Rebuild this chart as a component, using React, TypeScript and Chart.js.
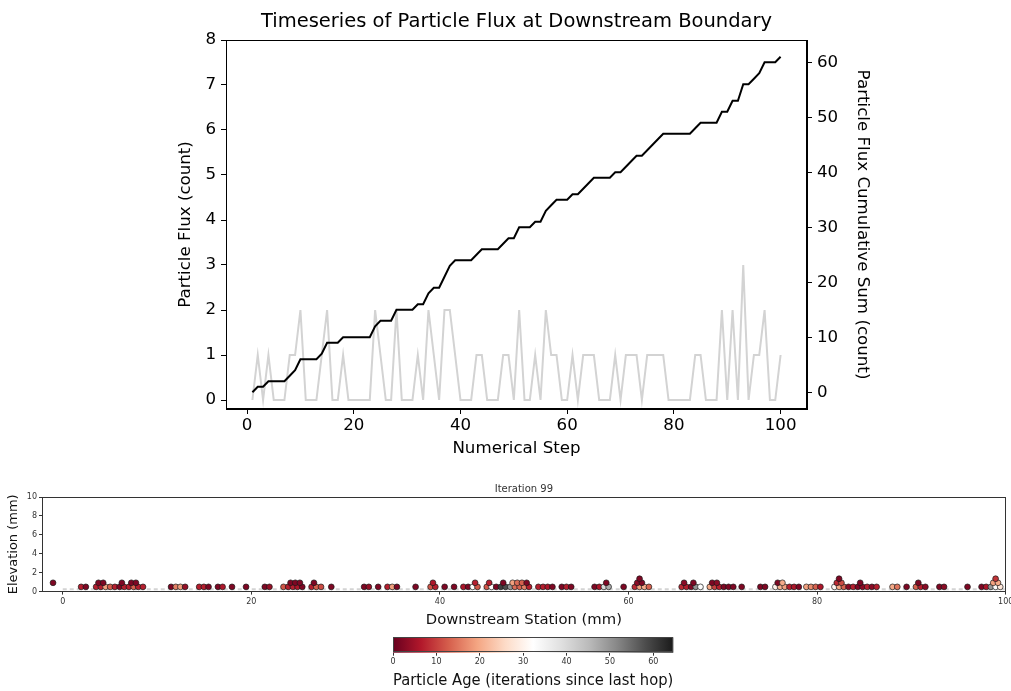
import React, { useEffect, useRef } from "react";
import { Chart, registerables } from "chart.js";

Chart.register(...registerables);

const FONT = "'DejaVu Sans', 'Liberation Sans', sans-serif";

// ---------- top chart data ----------
const stepLabels = Array.from({ length: 100 }, (_, i) => i + 1);
const particleFlux = [
  0, 1, 0, 1, 0, 0, 0, 1, 1, 2,
  0, 0, 0, 1, 2, 0, 0, 1, 0, 0,
  0, 0, 0, 2, 1, 0, 0, 2, 0, 0,
  0, 1, 0, 2, 1, 0, 2, 2, 1, 0,
  0, 0, 1, 1, 0, 0, 0, 1, 1, 0,
  2, 0, 0, 1, 0, 2, 1, 1, 0, 0,
  1, 0, 1, 1, 1, 0, 0, 0, 1, 0,
  1, 1, 1, 0, 1, 1, 1, 1, 0, 0,
  0, 0, 0, 1, 1, 0, 0, 0, 2, 0,
  2, 0, 3, 0, 1, 1, 2, 0, 0, 1,
];
const cumulativeFlux = [
  0, 1, 1, 2, 2, 2, 2, 3, 4, 6,
  6, 6, 6, 7, 9, 9, 9, 10, 10, 10,
  10, 10, 10, 12, 13, 13, 13, 15, 15, 15,
  15, 16, 16, 18, 19, 19, 21, 23, 24, 24,
  24, 24, 25, 26, 26, 26, 26, 27, 28, 28,
  30, 30, 30, 31, 31, 33, 34, 35, 35, 35,
  36, 36, 37, 38, 39, 39, 39, 39, 40, 40,
  41, 42, 43, 43, 44, 45, 46, 47, 47, 47,
  47, 47, 47, 48, 49, 49, 49, 49, 51, 51,
  53, 53, 56, 56, 57, 58, 60, 60, 60, 61,
];
const stepTicks = [0, 20, 40, 60, 80, 100];
const fluxTicks = [0, 1, 2, 3, 4, 5, 6, 7, 8];
const cumulativeTicks = [0, 10, 20, 30, 40, 50, 60];

// ---------- bottom chart data ----------
const particleX = [
  -1.03,
  1.95, 2.45,
  3.54, 4.04, 4.54, 5.03, 5.53, 6.03, 6.52, 7.02, 7.52, 8.01, 8.51, 3.79, 4.29, 6.27, 7.27, 7.76,
  11.49, 11.99, 12.48, 12.98,
  14.47, 14.97, 15.46,
  16.46, 16.95,
  17.95,
  19.44,
  21.43, 21.92,
  23.41, 23.91, 24.41, 24.9, 25.4, 24.16, 24.66, 25.15,
  26.39, 26.89, 27.39, 26.64,
  28.48,
  31.96, 32.46,
  33.45,
  34.44, 34.94, 35.44,
  37.42,
  39.01, 39.51, 39.26,
  40.5,
  41.5,
  42.49, 42.99, 43.48, 43.98, 43.73,
  44.97, 45.47, 45.97, 46.46, 46.96, 47.46, 47.95, 48.45, 48.95, 49.45, 45.22, 46.71, 47.71, 48.2, 48.7, 49.2,
  50.44, 50.94, 51.43, 51.93,
  52.92, 53.42, 53.92,
  56.4, 56.9, 57.39, 57.89, 57.64,
  59.48,
  60.67, 61.17, 61.67, 62.16, 60.92, 61.42, 61.17,
  65.64, 66.14, 66.64, 67.13, 67.63, 65.89, 66.88,
  68.62, 69.12, 69.62, 70.11, 70.61, 71.11, 68.87, 69.37,
  72.0,
  73.99, 74.48,
  75.58, 76.07, 76.57, 77.07, 77.56, 78.06, 75.82, 76.32,
  78.86, 79.35, 79.85, 80.35,
  81.84, 82.33, 82.83, 83.33, 83.82, 84.32, 84.82, 85.31, 85.81, 86.31, 82.09, 82.58, 84.57, 82.33,
  88.0, 88.5,
  89.49,
  90.48, 90.98, 91.48, 90.73,
  92.97, 93.46,
  95.95,
  97.44, 97.93, 98.43, 98.93, 99.42, 98.68, 99.18, 98.93,
];
const particleElevation = [
  0.93,
  0.5, 0.5,
  0.5, 0.5, 0.5, 0.5, 0.5, 0.5, 0.5, 0.5, 0.5, 0.5, 0.5, 0.93, 0.93, 0.93, 0.93, 0.93,
  0.5, 0.5, 0.5, 0.5,
  0.5, 0.5, 0.5,
  0.5, 0.5,
  0.5,
  0.5,
  0.5, 0.5,
  0.5, 0.5, 0.5, 0.5, 0.5, 0.93, 0.93, 0.93,
  0.5, 0.5, 0.5, 0.93,
  0.5,
  0.5, 0.5,
  0.5,
  0.5, 0.5, 0.5,
  0.5,
  0.5, 0.5, 0.93,
  0.5,
  0.5,
  0.5, 0.5, 0.5, 0.5, 0.93,
  0.5, 0.5, 0.5, 0.5, 0.5, 0.5, 0.5, 0.5, 0.5, 0.5, 0.93, 0.93, 0.93, 0.93, 0.93, 0.93,
  0.5, 0.5, 0.5, 0.5,
  0.5, 0.5, 0.5,
  0.5, 0.5, 0.5, 0.5, 0.93,
  0.5,
  0.5, 0.5, 0.5, 0.5, 0.93, 0.93, 1.36,
  0.5, 0.5, 0.5, 0.5, 0.5, 0.93, 0.93,
  0.5, 0.5, 0.5, 0.5, 0.5, 0.5, 0.93, 0.93,
  0.5,
  0.5, 0.5,
  0.5, 0.5, 0.5, 0.5, 0.5, 0.5, 0.93, 0.93,
  0.5, 0.5, 0.5, 0.5,
  0.5, 0.5, 0.5, 0.5, 0.5, 0.5, 0.5, 0.5, 0.5, 0.5, 0.93, 0.93, 0.93, 1.36,
  0.5, 0.5,
  0.5,
  0.5, 0.5, 0.5, 0.93,
  0.5, 0.5,
  0.5,
  0.5, 0.5, 0.5, 0.5, 0.5, 0.93, 0.93, 1.36,
];
const particleAge = [
  2,
  7, 2,
  7, 7, 19, 13, 7, 2, 7, 7, 13, 7, 7, 2, 2, 2, 2, 2,
  2, 16, 19, 4,
  7, 7, 2,
  2, 6,
  2,
  2,
  2, 4,
  12, 7, 7, 6, 2, 2, 2, 2,
  7, 13, 11, 2,
  2,
  2, 4,
  2,
  7, 19, 2,
  2,
  12, 7, 6,
  2,
  2,
  6, 2, 32, 12, 7,
  12, 32, 2, 60, 58, 50, 14, 13, 16, 7, 7, 2, 19, 14, 13, 2,
  7, 7, 6, 2,
  2, 7, 2,
  2, 6, 40, 47, 2,
  2,
  8, 19, 20, 13, 3, 2, 2,
  8, 7, 2, 50, 33, 3, 2,
  20, 10, 7, 2, 2, 2, 2, 3,
  2,
  2, 2,
  30, 21, 19, 7, 6, 2, 2, 20,
  19, 17, 13, 6,
  31, 20, 13, 3, 7, 2, 3, 7, 3, 7, 8, 11, 2, 2,
  20, 15,
  2,
  13, 7, 3, 2,
  2, 3,
  2,
  2, 6, 50, 32, 28, 19, 20, 9,
];
const bedX = [0, 100];
const bedElevation = [0.25, 0.25];
const stationTicks = [0, 20, 40, 60, 80, 100];
const elevationTicks = [0, 2, 4, 6, 8, 10];

// ---------- colorbar ----------
const ageTicks = [0, 10, 20, 30, 40, 50, 60];
const AGE_MAX = 64.6;
const rdgyStops: [number, string][] = [
  [0.0, "#67001f"], [0.1, "#b2182b"], [0.2, "#d6604d"], [0.3, "#f4a582"],
  [0.4, "#fddbc7"], [0.5, "#ffffff"], [0.6, "#e0e0e0"], [0.7, "#bababa"],
  [0.8, "#878787"], [0.9, "#4d4d4d"], [1.0, "#1a1a1a"],
];

function hexRgb(h: string) {
  return [parseInt(h.slice(1, 3), 16), parseInt(h.slice(3, 5), 16), parseInt(h.slice(5, 7), 16)];
}
function ageColor(age: number) {
  const t = Math.min(1, Math.max(0, age / AGE_MAX));
  for (let i = 1; i < rdgyStops.length; i++) {
    if (t <= rdgyStops[i][0]) {
      const [t0, c0] = rdgyStops[i - 1];
      const [t1, c1] = rdgyStops[i];
      const f = (t - t0) / (t1 - t0);
      const a = hexRgb(c0), b = hexRgb(c1);
      const m = a.map((v, k) => Math.round(v + (b[k] - v) * f));
      return `rgb(${m[0]},${m[1]},${m[2]})`;
    }
  }
  return rdgyStops[rdgyStops.length - 1][1];
}

const framePlugin = (color: string) => ({
  id: "frame",
  afterDatasetsDraw(chart: any) {
    const { ctx, chartArea: a } = chart;
    ctx.save();
    ctx.strokeStyle = color;
    ctx.lineWidth = 1;
    const l = Math.round(a.left) + 0.5, t = Math.round(a.top) + 0.5;
    const r = Math.round(a.right) - 0.5, b = Math.round(a.bottom) - 0.5;
    ctx.strokeRect(l, t, r - l, b - t);
    ctx.restore();
  },
});

const colorbarPlugin = {
  id: "colorbar",
  beforeDatasetsDraw(chart: any) {
    const { ctx, chartArea: a } = chart;
    const xs = chart.scales.x;
    const x0 = xs.getPixelForValue(0);
    const x1 = xs.getPixelForValue(AGE_MAX);
    const g = ctx.createLinearGradient(x0, 0, x1, 0);
    rdgyStops.forEach(([t, c]) => g.addColorStop(t, c));
    ctx.save();
    ctx.fillStyle = g;
    ctx.fillRect(x0, a.top, x1 - x0, a.bottom - a.top);
    ctx.strokeStyle = "#444";
    ctx.lineWidth = 1;
    ctx.strokeRect(Math.round(x0) + 0.5, Math.round(a.top) + 0.5, Math.round(x1 - x0) - 1, Math.round(a.bottom - a.top) - 1);
    ctx.restore();
  },
};

function tickSet(values: number[]) {
  return (s: any) => {
    s.ticks = values.map((v) => ({ value: v }));
  };
}

export default function App() {
  const topRef = useRef<HTMLCanvasElement>(null);
  const bottomRef = useRef<HTMLCanvasElement>(null);
  const barRef = useRef<HTMLCanvasElement>(null);

  useEffect(() => {
    const charts: Chart[] = [];
    const big = { family: FONT, size: 16.67 };

    charts.push(
      new Chart(topRef.current!, {
        type: "line",
        data: {
          datasets: [
            {
              label: "Cumulative",
              data: cumulativeFlux.map((v, i) => ({ x: stepLabels[i], y: v })),
              borderColor: "#000",
              borderWidth: 2,
              pointRadius: 0,
              yAxisID: "y2",
              order: 0,
            },
            {
              label: "Flux",
              data: particleFlux.map((v, i) => ({ x: stepLabels[i], y: v })),
              borderColor: "#d3d3d3",
              borderWidth: 2,
              pointRadius: 0,
              yAxisID: "y",
              order: 1,
            },
          ],
        },
        options: {
          animation: false,
          responsive: false,
          maintainAspectRatio: false,
          devicePixelRatio: 1,
          layout: { padding: { left: 176, right: 139, top: 0, bottom: 11 } },
          plugins: {
            legend: { display: false },
            tooltip: { enabled: false },
            title: {
              display: true,
              fullSize: false,
              text: "Timeseries of Particle Flux at Downstream Boundary",
              color: "#000",
              font: { family: FONT, size: 19.5, weight: "normal" },
              padding: { top: 10.5, bottom: 6.1 },
            },
          },
          scales: {
            x: {
              type: "linear",
              min: -3.95,
              max: 104.95,
              afterBuildTicks: tickSet(stepTicks),
              afterFit: (s: any) => { s.height = 50; },
              grid: { drawOnChartArea: false, drawTicks: true, tickLength: 5, color: "#000" },
              border: { display: true, color: "#000" },
              ticks: { color: "#000", font: big, padding: 1.5, autoSkip: false, maxRotation: 0 },
              title: { display: true, text: "Numerical Step", color: "#000", font: big, padding: 0 },
            },
            y: {
              type: "linear",
              position: "left",
              min: -0.2,
              max: 8,
              afterBuildTicks: tickSet(fluxTicks),
              afterFit: (s: any) => { s.width = 50; },
              grid: { drawOnChartArea: false, drawTicks: true, tickLength: 5, color: "#000" },
              border: { display: true, color: "#000" },
              ticks: { color: "#000", font: big, padding: 5, autoSkip: false },
              title: { display: true, text: "Particle Flux (count)", color: "#000", font: big, padding: 0 },
            },
            y2: {
              type: "linear",
              position: "right",
              min: -3.05,
              max: 64.05,
              afterBuildTicks: tickSet(cumulativeTicks),
              afterFit: (s: any) => { s.width = 65; },
              grid: { drawOnChartArea: false, drawTicks: true, tickLength: 5, color: "#000" },
              border: { display: true, color: "#000" },
              ticks: { color: "#000", font: big, padding: 5, autoSkip: false },
              title: { display: true, text: "Particle Flux Cumulative Sum (count)", color: "#000", font: big, padding: 0 },
            },
          },
        },
        plugins: [framePlugin("#000")],
      } as any)
    );

    const points = particleX
      .map((x, i) => ({ x, y: particleElevation[i], age: particleAge[i] }))
      .sort((a, b) => a.y - b.y);

    const small = { family: FONT, size: 8 };
    charts.push(
      new Chart(bottomRef.current!, {
        type: "scatter",
        data: {
          datasets: [
            {
              type: "line",
              data: bedX.map((x, i) => ({ x, y: bedElevation[i] })),
              borderColor: "#d4d4d4",
              borderWidth: 2,
              borderDash: [4, 3],
              pointRadius: 0,
              order: 2,
            },
            {
              data: points.map((p) => ({ x: p.x, y: p.y })),
              backgroundColor: points.map((p) => ageColor(p.age)),
              borderColor: "#1a1a1a",
              borderWidth: 0.7,
              pointRadius: 2.9,
              order: 1,
            },
          ],
        },
        options: {
          animation: false,
          responsive: false,
          maintainAspectRatio: false,
          devicePixelRatio: 1,
          layout: { padding: { left: 6, right: 5.3, top: 0, bottom: 1 } },
          plugins: {
            legend: { display: false },
            tooltip: { enabled: false },
            title: {
              display: true,
              fullSize: false,
              text: "Iteration 99",
              color: "#333",
              font: { family: FONT, size: 10, weight: "normal" },
              padding: { top: 13.6, bottom: 1.4 },
            },
          },
          scales: {
            x: {
              type: "linear",
              min: -2.2,
              max: 100,
              afterBuildTicks: tickSet(stationTicks),
              afterFit: (s: any) => { s.height = 37.4; s.paddingRight = 0; s.paddingLeft = 0; },
              grid: { drawOnChartArea: false, drawTicks: true, tickLength: 3, color: "#333" },
              border: { display: true, color: "#333" },
              ticks: { color: "#333", font: small, padding: 3, autoSkip: false, maxRotation: 0 },
              title: { display: true, text: "Downstream Station (mm)", color: "#111", font: { family: FONT, size: 14.8 }, padding: 0 },
            },
            y: {
              type: "linear",
              min: 0,
              max: 10,
              afterBuildTicks: tickSet(elevationTicks),
              afterFit: (s: any) => { s.width = 36; },
              grid: { drawOnChartArea: false, drawTicks: true, tickLength: 3, color: "#333" },
              border: { display: true, color: "#333" },
              ticks: { color: "#333", font: small, padding: 2, autoSkip: false },
              title: { display: true, text: "Elevation (mm)", color: "#111", font: { family: FONT, size: 13 }, padding: 0 },
            },
          },
        },
        plugins: [framePlugin("#333")],
      } as any)
    );

    charts.push(
      new Chart(barRef.current!, {
        type: "scatter",
        data: { datasets: [] },
        options: {
          animation: false,
          responsive: false,
          maintainAspectRatio: false,
          devicePixelRatio: 1,
          layout: { padding: { left: 393, right: 337.7, top: 7.3, bottom: 1 } },
          plugins: { legend: { display: false }, tooltip: { enabled: false } },
          scales: {
            x: {
              type: "linear",
              min: 0,
              max: AGE_MAX,
              afterBuildTicks: tickSet(ageTicks),
              afterFit: (s: any) => { s.height = 37.3; s.paddingRight = 0; s.paddingLeft = 0; },
              grid: { drawOnChartArea: false, drawTicks: true, tickLength: 3, color: "#333" },
              border: { display: false },
              ticks: { color: "#333", font: small, padding: 1, autoSkip: false, maxRotation: 0 },
              title: { display: true, text: "Particle Age (iterations since last hop)", color: "#111", font: { family: FONT, size: 15 }, padding: 0 },
            },
            y: { display: false, min: 0, max: 1 },
          },
        },
        plugins: [colorbarPlugin],
      } as any)
    );

    return () => charts.forEach((c) => c.destroy());
  }, []);

  return (
    <div style={{ position: "fixed", left: 0, top: 0, width: 1011, height: 691, background: "#fff", overflow: "hidden" }}>
      <canvas ref={topRef} width={1011} height={470} style={{ position: "absolute", left: 0, top: 0, width: 1011, height: 470 }} />
      <canvas ref={bottomRef} width={1011} height={160} style={{ position: "absolute", left: 0, top: 470, width: 1011, height: 160 }} />
      <canvas ref={barRef} width={1011} height={61} style={{ position: "absolute", left: 0, top: 630, width: 1011, height: 61 }} />
    </div>
  );
}
